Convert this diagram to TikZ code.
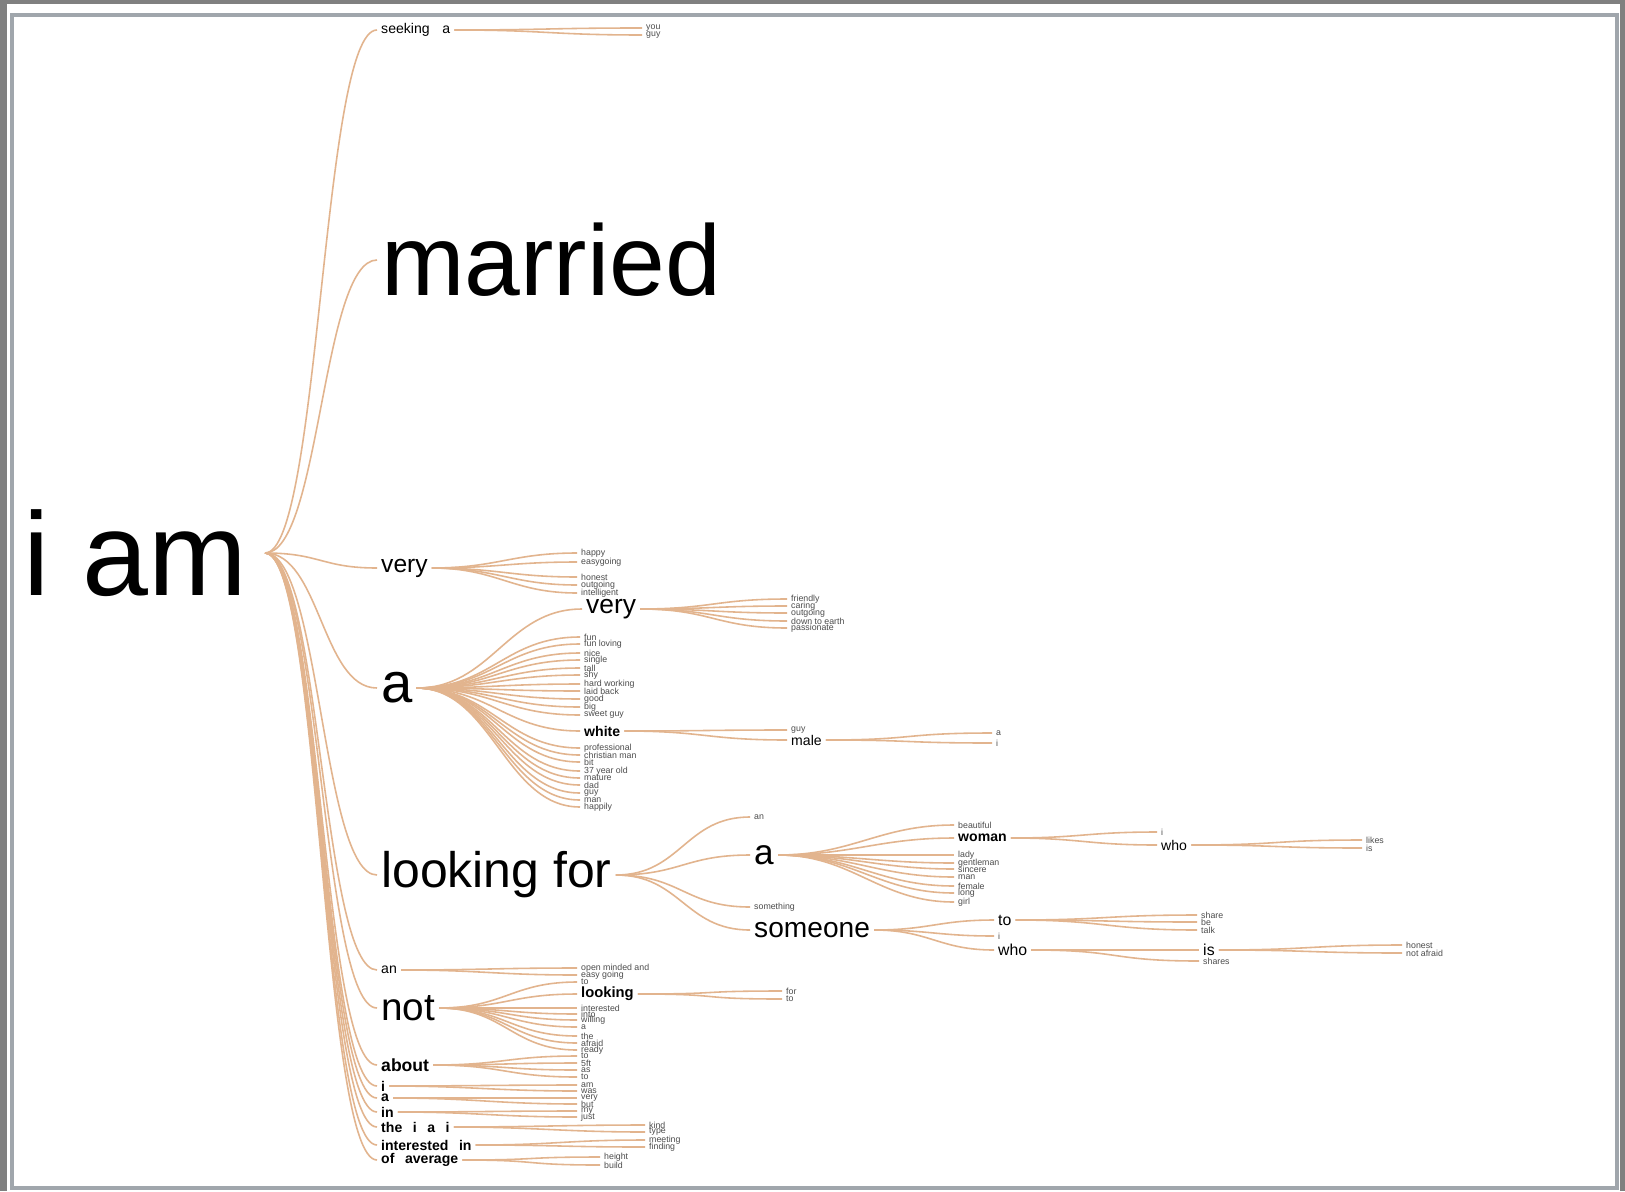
\documentclass[tikz,border=0pt]{standalone}
\usepackage{fontspec}
\setmainfont{Liberation Sans}
\definecolor{twig}{RGB}{226,180,142}
\definecolor{frameline}{RGB}{160,166,172}
\tikzset{
  word/.style={anchor=west, inner xsep=1pt, inner ysep=0pt, font=\fontsize{#1}{#1}\selectfont},
  word/.default=4.5,
  heavy/.style={font=\fontsize{#1}{#1}\selectfont\bfseries},
  leaf/.style={anchor=west, inner xsep=1pt, inner ysep=0pt, text=black!70, font=\fontsize{2.5}{2.5}\selectfont},
  twigline/.style={draw=twig, line width=0.45pt},
  fan/.style={to path={.. controls +(#1,0) and +(-#1,0) .. (\tikztotarget)}},
  fan/.default=60,
}
\begin{document}
\begin{tikzpicture}[x=0.01cm, y=-0.01cm]
\useasboundingbox (0,0) rectangle (1625,1191);
\fill[black!50] (0,0) rectangle (1625,1191);
\fill[white] (7,4) rectangle (1620,1191);
\draw[frameline, line width=1pt] (12,15) rectangle (1617,1188);

\node[word=33.7, inner xsep=4.8pt] (iam) at (6,553) {i am};
\node[word=4] (seeking) at (377,30) {seeking\hspace{2.5pt} a};
\node[word=28.5] (married) at (377,260) {married};
\node[word=7] (very) at (377,568) {very};
\node[word=16] (wa) at (377,688) {a};
\node[word=14.2] (lookfor) at (377,875) {looking for};
\node[word=4] (an) at (377,970) {an};
\node[word=11] (not) at (377,1008) {not};
\node[word, heavy=5] (about) at (377,1065) {about};
\node[word, heavy=4] (ri) at (377,1086) {i};
\node[word, heavy=4] (ra) at (377,1098) {a};
\node[word, heavy=4] (rin) at (377,1112) {in};
\node[word, heavy=4] (rthe) at (377,1127) {the\hspace{3pt}i\hspace{3pt}a\hspace{3pt}i};
\node[word, heavy=4] (rint) at (377,1145) {interested\hspace{3pt}in};
\node[word, heavy=4] (rof) at (377,1160) {of\hspace{3pt}average};
\foreach \n in {seeking,married,very,wa,lookfor,an,not,about,ri,ra,rin,rthe,rint,rof}
  \draw[twigline] (iam.east) to[fan=55] (\n.west);

\foreach \y/\t [count=\i] in {28/you, 35/guy} {
  \node[leaf] (sk\i) at (642,\y) {\t};
  \draw[twigline] (seeking.east) to[fan=90] (sk\i.west);
}

\foreach \y/\t [count=\i] in {553/happy, 562/easygoing, 577/honest, 585/outgoing, 593/intelligent} {
  \node[leaf] (vl\i) at (577,\y) {\t};
  \draw[twigline] (very.east) to[fan=65] (vl\i.west);
}

\node[word=7.5] (very2) at (582,609) {very};
\node[word, heavy=4] (white) at (580,731) {white};
\draw[twigline] (wa.east) to[fan=75] (very2.west);
\draw[twigline] (wa.east) to[fan=75] (white.west);
\foreach \y/\t [count=\i] in {637/fun, 644/fun loving, 653/nice, 660/single, 668/tall, 675/shy,
    684/hard working, 691/laid back, 699/good, 707/big, 715/sweet guy, 748/professional,
    755/christian man, 762/bit, 771/37 year old, 778/mature, 785/dad, 793/guy, 800/man, 807/happily} {
  \node[leaf] (al\i) at (580,\y) {\t};
  \draw[twigline] (wa.east) to[fan=75] (al\i.west);
}
\foreach \y/\t [count=\i] in {599/friendly, 606/caring, 613/outgoing, 621/down to earth, 628/passionate} {
  \node[leaf] (vv\i) at (787,\y) {\t};
  \draw[twigline] (very2.east) to[fan=70] (vv\i.west);
}
\node[leaf] (wh1) at (787,730) {guy};
\node[word=4] (male) at (787,740) {male};
\draw[twigline] (white.east) to[fan=80] (wh1.west);
\draw[twigline] (white.east) to[fan=80] (male.west);
\foreach \y/\t [count=\i] in {733/a, 743/i} {
  \node[leaf] (ml\i) at (992,\y) {\t};
  \draw[twigline] (male.east) to[fan=90] (ml\i.west);
}

\node[leaf] (lf1) at (750,817) {an};
\node[word=10] (lfa) at (750,855) {a};
\node[leaf] (lf3) at (750,907) {something};
\node[word=8] (someone) at (750,930) {someone};
\foreach \n in {lf1,lfa,lf3,someone}
  \draw[twigline] (lookfor.east) to[fan=65] (\n.west);

\node[word, heavy=4] (woman) at (954,838) {woman};
\draw[twigline] (lfa.east) to[fan=75] (woman.west);
\foreach \y/\t [count=\i] in {825/beautiful, 855/lady, 863/gentleman, 869/sincere, 877/man,
    886/female, 893/long, 902/girl} {
  \node[leaf] (la\i) at (954,\y) {\t};
  \draw[twigline] (lfa.east) to[fan=75] (la\i.west);
}
\node[leaf] (wo1) at (1157,832) {i};
\node[word=4] (who) at (1157,845) {who};
\draw[twigline] (woman.east) to[fan=70] (wo1.west);
\draw[twigline] (woman.east) to[fan=70] (who.west);
\foreach \y/\t [count=\i] in {840/likes, 848/is} {
  \node[leaf] (wh\i) at (1362,\y) {\t};
  \draw[twigline] (who.east) to[fan=90] (wh\i.west);
}

\node[word=4.5] (sto) at (994,920) {to};
\node[leaf] (si) at (994,936) {i};
\node[word=4.5] (swho) at (994,950) {who};
\foreach \n in {sto,si,swho}
  \draw[twigline] (someone.east) to[fan=55] (\n.west);
\foreach \y/\t [count=\i] in {915/share, 922/be, 930/talk} {
  \node[leaf] (st\i) at (1197,\y) {\t};
  \draw[twigline] (sto.east) to[fan=90] (st\i.west);
}
\node[word=4.5] (sis) at (1199,950) {is};
\node[leaf] (sw2) at (1199,961) {shares};
\draw[twigline] (swho.east) to[fan=90] (sis.west);
\draw[twigline] (swho.east) to[fan=90] (sw2.west);
\foreach \y/\t [count=\i] in {945/honest, 953/not afraid} {
  \node[leaf] (si\i) at (1402,\y) {\t};
  \draw[twigline] (sis.east) to[fan=90] (si\i.west);
}

\foreach \y/\t [count=\i] in {968/open minded and, 975/easy going} {
  \node[leaf] (nl\i) at (577,\y) {\t};
  \draw[twigline] (an.east) to[fan=80] (nl\i.west);
}

\node[word, heavy=4.2] (nlook) at (577,994) {looking};
\draw[twigline] (not.east) to[fan=65] (nlook.west);
\foreach \y/\t [count=\i] in {982/to, 1008/interested, 1014/into, 1020/willing, 1027/a,
    1036/the, 1043/afraid, 1050/ready} {
  \node[leaf] (no\i) at (577,\y) {\t};
  \draw[twigline] (not.east) to[fan=65] (no\i.west);
}
\foreach \y/\t [count=\i] in {991/for, 999/to} {
  \node[leaf] (lk\i) at (782,\y) {\t};
  \draw[twigline] (nlook.east) to[fan=90] (lk\i.west);
}

\foreach \y/\t [count=\i] in {1056/to, 1063/5ft, 1070/as, 1077/to} {
  \node[leaf] (ab\i) at (577,\y) {\t};
  \draw[twigline] (about.east) to[fan=70] (ab\i.west);
}
\foreach \p/\y/\t [count=\i] in {ri/1085/am, ri/1091/was, ra/1098/very, ra/1104/but,
    rin/1111/my, rin/1117/just} {
  \node[leaf] (rl\i) at (577,\y) {\t};
  \draw[twigline] (\p.east) to[fan=80] (rl\i.west);
}
\foreach \p/\x/\y/\t [count=\i] in {rthe/645/1125/kind, rthe/645/1132/type, rint/645/1140/meeting,
    rint/645/1147/finding, rof/600/1157/height, rof/600/1165/build} {
  \node[leaf] (rr\i) at (\x,\y) {\t};
  \draw[twigline] (\p.east) to[fan=80] (rr\i.west);
}
\end{tikzpicture}
\end{document}
